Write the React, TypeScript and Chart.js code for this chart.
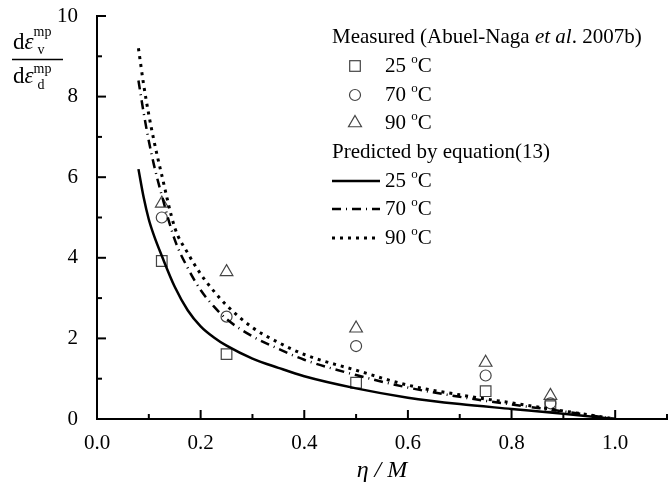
import React, { useEffect, useRef } from "react";
import { Chart, registerables } from "chart.js";
Chart.register(...registerables);

// ---- data ----
const etaMeasured = [0.125, 0.25, 0.5, 0.75, 0.875];
const measured25 = [3.92, 1.61, 0.9, 0.69, 0.32];
const measured70 = [5.0, 2.54, 1.81, 1.08, 0.39];
const measured90 = [5.35, 3.65, 2.25, 1.4, 0.58];

const etaPredicted = [0.08, 0.09, 0.1, 0.11, 0.125, 0.15, 0.175, 0.2, 0.225, 0.25, 0.3, 0.35, 0.4, 0.5, 0.6, 0.7, 0.8, 0.9, 1.0];
const predicted25 = [6.2, 5.5, 4.95, 4.55, 4.05, 3.28, 2.7, 2.3, 2.03, 1.82, 1.5, 1.27, 1.06, 0.76, 0.53, 0.37, 0.25, 0.13, 0];
const predicted70 = [8.4, 7.6, 6.9, 6.3, 5.55, 4.45, 3.75, 3.2, 2.8, 2.48, 2.05, 1.74, 1.47, 1.09, 0.78, 0.55, 0.36, 0.19, 0];
const predicted90 = [9.2, 8.3, 7.55, 6.9, 6.05, 4.75, 4.12, 3.6, 3.18, 2.82, 2.27, 1.9, 1.6, 1.21, 0.84, 0.6, 0.4, 0.2, 0];

const xTickValues = [0, 0.2, 0.4, 0.6, 0.8, 1.0];
const xTickLabels = ["0.0", "0.2", "0.4", "0.6", "0.8", "1.0"];
const yTickValues = [0, 2, 4, 6, 8, 10];
const yTickLabels = ["0", "2", "4", "6", "8", "10"];

const measuredHeading = "Measured (Abuel-Naga ";
const measuredItalic = "et al";
const measuredTail = ". 2007b)";
const predictedHeading = "Predicted by equation(13)";
const tempLabels = ["25", "70", "90"];

const FONT = "Liberation Serif";
const MARK = "#444";
const FS = 21;

const toXY = (xs: number[], ys: number[]) => xs.map((x, i) => ({ x, y: ys[i] }));

function drawTemp(ctx: CanvasRenderingContext2D, t: string, x: number, y: number) {
  ctx.font = `${FS}px "${FONT}"`;
  ctx.textBaseline = "middle";
  ctx.textAlign = "left";
  const a = t + " ";
  ctx.fillText(a, x, y);
  let cx = x + ctx.measureText(a).width;
  ctx.font = `13px "${FONT}"`;
  ctx.fillText("o", cx, y - 6);
  cx += ctx.measureText("o").width;
  ctx.font = `${FS}px "${FONT}"`;
  ctx.fillText("C", cx, y);
}

const decorPlugin = {
  id: "decor",
  afterDraw(chart: any) {
    const { ctx, scales } = chart;
    const x = scales.x;
    const y = scales.y;
    ctx.save();
    // inward ticks
    ctx.strokeStyle = "#000";
    ctx.lineWidth = 2;
    for (let i = 0; i <= 11; i++) {
      const px = x.getPixelForValue(i / 10);
      const len = i % 2 === 0 ? 9 : 5;
      ctx.beginPath();
      ctx.moveTo(px, y.bottom);
      ctx.lineTo(px, y.bottom - len);
      ctx.stroke();
    }
    for (let i = 0; i <= 10; i++) {
      const py = y.getPixelForValue(i);
      const len = i % 2 === 0 ? 9 : 5;
      ctx.beginPath();
      ctx.moveTo(x.left, py);
      ctx.lineTo(x.left + len, py);
      ctx.stroke();
    }

    // y-axis title (fraction)
    ctx.fillStyle = "#000";
    ctx.textAlign = "left";
    ctx.textBaseline = "alphabetic";
    const drawEps = (bx: number, by: number, sub: string, supY: number, subY: number) => {
      ctx.font = `23px "${FONT}"`;
      ctx.fillText("d", bx, by);
      let cx = bx + ctx.measureText("d").width;
      ctx.font = `italic 23px "${FONT}"`;
      ctx.fillText("ε", cx, by);
      cx += ctx.measureText("ε").width;
      ctx.font = `14px "${FONT}"`;
      ctx.fillText("mp", cx, supY);
      ctx.fillText(sub, cx + 4, subY);
    };
    drawEps(13, 49, "v", 36, 54);
    ctx.lineWidth = 1.5;
    ctx.beginPath();
    ctx.moveTo(12, 59.5);
    ctx.lineTo(63, 59.5);
    ctx.stroke();
    drawEps(13, 83, "d", 73, 89);

    // legend
    ctx.fillStyle = "#000";
    ctx.font = `${FS}px "${FONT}"`;
    ctx.textBaseline = "middle";
    let lx = 332;
    ctx.fillText(measuredHeading, lx, 37);
    lx += ctx.measureText(measuredHeading).width;
    ctx.font = `italic ${FS}px "${FONT}"`;
    ctx.fillText(measuredItalic, lx, 37);
    lx += ctx.measureText(measuredItalic).width;
    ctx.font = `${FS}px "${FONT}"`;
    ctx.fillText(measuredTail, lx, 37);

    const rows = [66, 95, 123];
    ctx.strokeStyle = MARK;
    ctx.lineWidth = 1.2;
    ctx.strokeRect(355 - 5.3, rows[0] - 5.3, 10.6, 10.6);
    ctx.beginPath();
    ctx.arc(355, rows[1], 5.5, 0, Math.PI * 2);
    ctx.stroke();
    ctx.beginPath();
    const r = 7.5;
    ctx.moveTo(355, rows[2] - r);
    ctx.lineTo(355 + r * 0.866, rows[2] + r * 0.5);
    ctx.lineTo(355 - r * 0.866, rows[2] + r * 0.5);
    ctx.closePath();
    ctx.stroke();
    ctx.fillStyle = "#000";
    tempLabels.forEach((t, i) => drawTemp(ctx, t, 385, rows[i]));

    ctx.font = `${FS}px "${FONT}"`;
    ctx.fillText(predictedHeading, 332, 152);
    const lrows = [181, 209, 238];
    const dashes = [[], [9, 5, 1, 5], [3, 5]];
    const widths = [2.5, 2.5, 3];
    lrows.forEach((ly, i) => {
      ctx.strokeStyle = "#000";
      ctx.lineWidth = widths[i];
      ctx.setLineDash(dashes[i]);
      ctx.beginPath();
      ctx.moveTo(332, ly);
      ctx.lineTo(380, ly);
      ctx.stroke();
      ctx.setLineDash([]);
      drawTemp(ctx, tempLabels[i], 385, ly);
    });
    ctx.restore();
  },
};

export default function App() {
  const ref = useRef<HTMLCanvasElement | null>(null);
  useEffect(() => {
    document.body.style.margin = "0";
    const canvas = ref.current!;
    const markerDs = (data: number[], style: string, radius: number) => ({
      type: "scatter" as const,
      data: toXY(etaMeasured, data),
      showLine: false,
      pointStyle: style,
      pointRadius: radius,
      pointBorderColor: MARK,
      pointBackgroundColor: "rgba(0,0,0,0)",
      pointBorderWidth: 1.2,
    });
    const lineDs = (data: number[], dash: number[], width: number) => ({
      type: "line" as const,
      data: toXY(etaPredicted, data),
      borderColor: "#000",
      borderWidth: width,
      borderDash: dash,
      pointRadius: 0,
      fill: false,
      cubicInterpolationMode: "monotone" as const,
    });
    const chart = new Chart(canvas, {
      type: "scatter",
      data: {
        datasets: [
          lineDs(predicted25, [], 2.5),
          lineDs(predicted70, [9, 5, 1, 5], 2.5),
          lineDs(predicted90, [3, 5], 3),
          markerDs(measured25, "rect", 7.5),
          markerDs(measured70, "circle", 5.5),
          markerDs(measured90, "triangle", 7.3),
        ] as any,
      },
      options: {
        animation: false,
        responsive: false,
        events: [],
        layout: { autoPadding: false, padding: { top: 16, right: 1, left: 0, bottom: 0 } },
        plugins: { legend: { display: false }, tooltip: { enabled: false } },
        scales: {
          x: {
            type: "linear",
            min: 0,
            max: 1.1,
            grid: { display: false },
            border: { display: true, color: "#000", width: 2 },
            afterBuildTicks: (s: any) => {
              s.ticks = xTickValues.map((v) => ({ value: v }));
            },
            afterFit: (s: any) => {
              s.height = 70;
              s.paddingLeft = 0;
              s.paddingRight = 0;
            },
            ticks: {
              color: "#000",
              padding: 4,
              font: { family: FONT, size: FS },
              maxRotation: 0,
              autoSkip: false,
              callback: (v: any) => {
                const i = xTickValues.findIndex((t) => Math.abs(t - Number(v)) < 1e-9);
                return i >= 0 ? xTickLabels[i] : "";
              },
            },
            title: {
              display: true,
              text: "η / M",
              color: "#000",
              font: { family: FONT, size: 24, style: "italic" },
              padding: { top: 0, bottom: 4 },
            },
          },
          y: {
            type: "linear",
            min: 0,
            max: 10,
            grid: { display: false },
            border: { display: true, color: "#000", width: 2 },
            afterBuildTicks: (s: any) => {
              s.ticks = yTickValues.map((v) => ({ value: v }));
            },
            afterFit: (s: any) => {
              s.width = 97;
              s.paddingTop = 0;
              s.paddingBottom = 0;
            },
            ticks: {
              color: "#000",
              padding: 11,
              font: { family: FONT, size: FS },
              autoSkip: false,
              callback: (v: any) => {
                const i = yTickValues.findIndex((t) => Math.abs(t - Number(v)) < 1e-9);
                return i >= 0 ? yTickLabels[i] : "";
              },
            },
          },
        },
      },
      plugins: [decorPlugin],
    });
    return () => chart.destroy();
  }, []);
  return (
    <div style={{ position: "absolute", left: 0, top: 0, width: 668, height: 489, background: "#fff" }}>
      <canvas ref={ref} width={668} height={489} />
    </div>
  );
}
